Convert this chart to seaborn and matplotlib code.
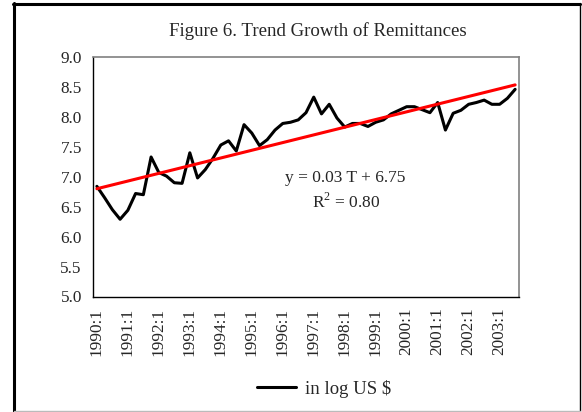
import numpy as np
import pandas as pd
import matplotlib
matplotlib.use("Agg")
import matplotlib.pyplot as plt
from matplotlib.lines import Line2D
import seaborn as sns

# ---- data ----
years = list(range(1990, 2004))
remit_log = [6.84, 6.65, 6.45, 6.29, 6.44, 6.72, 6.70, 7.33,
             7.07, 7.01, 6.90, 6.89, 7.40, 6.98, 7.12, 7.31,
             7.53, 7.60, 7.43, 7.87, 7.73, 7.52, 7.62, 7.78,
             7.89, 7.91, 7.95, 8.07, 8.33, 8.05, 8.21, 7.98,
             7.83, 7.89, 7.89, 7.84, 7.91, 7.95, 8.05, 8.11,
             8.17, 8.17, 8.12, 8.07, 8.24, 7.78, 8.06, 8.11,
             8.21, 8.24, 8.28, 8.21, 8.21, 8.31, 8.46]
quarters = [f"{y}:{q}" for y in years for q in range(1, 5)][:len(remit_log)]
tick_labels = [f"{y}:1" for y in years]
y_ticks = [5.0, 5.5, 6.0, 6.5, 7.0, 7.5, 8.0, 8.5, 9.0]
title = "Figure 6. Trend Growth of Remittances"
series_name = "in log US $"
eq_text = "y = 0.03 T + 6.75"
r2_text = "R$^2$ = 0.80"

df = pd.DataFrame({"period": quarters, "value": remit_log})
df["t"] = np.arange(len(df))

sns.set_style("white")
plt.rcParams["font.family"] = ["Liberation Serif", "DejaVu Serif"]
plt.rcParams["mathtext.fontset"] = "custom"
plt.rcParams["mathtext.rm"] = "Liberation Serif"

W, H = 582, 412
fig = plt.figure(figsize=(W / 100, H / 100), dpi=100)
ax = fig.add_axes([93 / W, 1 - 296.5 / H, (519 - 93) / W, (296.5 - 57) / H])

sns.lineplot(data=df, x="t", y="value", ax=ax, color="black", linewidth=2.2,
             label=series_name, legend=False)
sns.regplot(data=df, x="t", y="value", ax=ax, scatter=False, ci=None,
            color="#ff0000", line_kws={"linewidth": 2.2})

ax.set_xlim(-0.5, len(df) - 0.5)
ax.set_ylim(5.0, 9.0)
ax.set_yticks(y_ticks)
ax.set_yticklabels([f"{v:.1f}" for v in y_ticks], fontsize=12.4)
label_pos = [quarters.index(l) for l in tick_labels if l in quarters]
ax.set_xticks(label_pos)
ax.set_xticklabels([quarters[p] for p in label_pos], rotation=90, fontsize=12.4)
ax.set_xticks([p - 0.5 for p in label_pos], minor=True)
ax.tick_params(axis="x", which="major", length=0, pad=8)
ax.tick_params(axis="x", which="minor", length=5, width=1, color="black", direction="out")
ax.tick_params(axis="y", length=5, width=1, color="black", direction="out", pad=3)
ax.set_xlabel("")
ax.set_ylabel("")
for s in ["left", "bottom"]:
    ax.spines[s].set_color("black")
    ax.spines[s].set_linewidth(1)
for s in ["top", "right"]:
    ax.spines[s].set_color("#808080")
    ax.spines[s].set_linewidth(1.2)

ax.text(345 / W, 1 - 178 / H, eq_text, transform=fig.transFigure,
        ha="center", va="center", fontsize=12.5)
ax.text(346 / W, 1 - 202 / H, r2_text, transform=fig.transFigure,
        ha="center", va="center", fontsize=12.5)

fig.text(317.5 / W, 1 - 31 / H, title, ha="center", va="center", fontsize=13.6)

handle = Line2D([], [], color="black", linewidth=2.2)
fig.legend([handle], [series_name], loc="center", bbox_to_anchor=(324 / W, 1 - 389 / H),
           frameon=False, fontsize=13.5, handlelength=2.1, handletextpad=0.5)

# outer chart frame
fig.add_artist(Line2D([14 / W, 14 / W], [1 - 3 / H, 1 - 411 / H], color="black", linewidth=2.2,
                      transform=fig.transFigure))
fig.add_artist(Line2D([13 / W, 580 / W], [1 - 3.5 / H, 1 - 3.5 / H], color="black", linewidth=2.2,
                      transform=fig.transFigure))
fig.add_artist(Line2D([579.5 / W, 579.5 / W], [1 - 3 / H, 1 - 411 / H], color="black", linewidth=1,
                      transform=fig.transFigure))
fig.add_artist(Line2D([14 / W, 580 / W], [1 - 410.5 / H, 1 - 410.5 / H], color="#bbbbbb", linewidth=1,
                      transform=fig.transFigure))

fig.savefig("out.png", dpi=100)
